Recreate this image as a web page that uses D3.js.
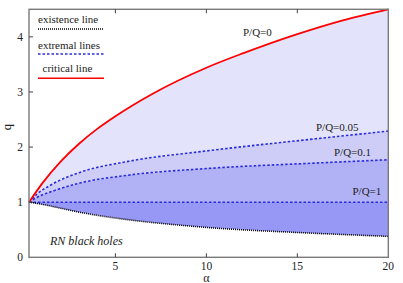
<!DOCTYPE html>
<html>
<head>
<meta charset="utf-8">
<script src="https://cdn.jsdelivr.net/npm/d3@7"></script>
<style>
  body { margin: 0; background: #fff; }
  svg { display: block; }
  svg text { font-family: "Liberation Serif", "Times New Roman", "DejaVu Serif", serif; }
</style>
</head>
<body>
<svg width="403" height="283"></svg>
<script>
// curves: [alpha, q]
var critical = [[0.25,1.00],[1,1.35],[2,1.74],[3,2.06],[4,2.33],[5,2.56],[7,2.96],[10,3.44],[12,3.70],[15,4.05],[17.5,4.30],[20,4.50]];
var extremal005 = [[0.25,1.00],[0.7,1.15],[1.55,1.33],[2.95,1.53],[5.7,1.74],[10,1.93],[16,2.15],[20,2.29]];
var extremal01 = [[0.25,1.00],[0.7,1.09],[1.55,1.20],[2.95,1.34],[5.7,1.49],[10,1.61],[16,1.71],[20,1.77]];
var extremal1 = [[0.25,1.00],[5,1.00],[10,1.00],[15,1.00],[20,1.00]];
var existence = [[0.25,1.00],[1,0.96],[2,0.89],[3,0.82],[5.5,0.69],[8,0.60],[10.5,0.53],[15,0.45],[20,0.38]];

var xTicks = [5, 10, 15, 20];
var yTicks = [0, 1, 2, 3, 4];

var svg = d3.select("svg"),
    mLeft = 29, mRight = 388.3, mTop = 9.3, mBottom = 257.3,
    serif = "'Liberation Serif', 'Times New Roman', 'DejaVu Serif', serif";

var x = d3.scaleLinear().domain([0.25, 20]).range([mLeft, mRight]);
var y = d3.scaleLinear().domain([0, 4.5]).range([mBottom, mTop]);

// existence line interpolated so areas can share its x positions
var exInterp = d3.scaleLinear().domain(existence.map(d => d[0])).range(existence.map(d => d[1]));

function band(upper) {
    var up = d3.scaleLinear().domain(upper.map(d => d[0])).range(upper.map(d => d[1]));
    var xs = d3.range(0.25, 20.001, 0.25);
    return xs.map(a => [a, up(a), exInterp(a)]);
}

var area = d3.area()
    .x(d => x(d[0]))
    .y0(d => y(d[2]))
    .y1(d => y(d[1]))
    .curve(d3.curveMonotoneX);

var fills = [
    [critical, "#e3e3fb"],
    [extremal005, "#cdcdf8"],
    [extremal01, "#b1b1f6"],
    [extremal1, "#9797f5"]
];
fills.forEach(function(f) {
    svg.append("path").datum(band(f[0])).attr("d", area).attr("fill", f[1]);
});

var line = d3.line().x(d => x(d[0])).y(d => y(d[1])).curve(d3.curveMonotoneX);

// extremal lines
[extremal005, extremal01, extremal1].forEach(function(c) {
    svg.append("path").datum(c).attr("d", line)
        .attr("fill", "none").attr("stroke", "#2a2ae0")
        .attr("stroke-width", 1.6).attr("stroke-dasharray", "2.5,2");
});
// existence line
svg.append("path").datum(existence).attr("d", line)
    .attr("fill", "none").attr("stroke", "#000")
    .attr("stroke-width", 1.6).attr("stroke-dasharray", "1,1");
// critical line
svg.append("path").datum(critical).attr("d", line)
    .attr("fill", "none").attr("stroke", "#ff0000").attr("stroke-width", 1.8);

// frame
svg.append("rect").attr("x", mLeft).attr("y", mTop)
    .attr("width", mRight - mLeft).attr("height", mBottom - mTop)
    .attr("fill", "none").attr("stroke", "#7a7a7a").attr("stroke-width", 1.4);

function txt(xp, yp, s, size) {
    return svg.append("text").attr("x", xp).attr("y", yp)
        .attr("font-family", serif).attr("font-size", size)
        .attr("fill", "#222").text(s);
}

// ticks (inward) and labels
xTicks.forEach(function(t) {
    if (t < 20) {
        svg.append("line").attr("x1", x(t)).attr("x2", x(t)).attr("y1", mBottom).attr("y2", mBottom - 4).attr("stroke", "#444");
        svg.append("line").attr("x1", x(t)).attr("x2", x(t)).attr("y1", mTop).attr("y2", mTop + 4).attr("stroke", "#444");
    }
    txt(x(t), 269.5, t, 11.5).attr("text-anchor", "middle");
});
yTicks.forEach(function(t) {
    if (t > 0) {
        svg.append("line").attr("x1", mLeft).attr("x2", mLeft + 4).attr("y1", y(t)).attr("y2", y(t)).attr("stroke", "#444");
    }
    txt(23, y(t) + 4, t, 11.5).attr("text-anchor", "end");
});

txt(x(10), 281.5, "α", 12).attr("text-anchor", "middle");
txt(0, 0, "q", 12.5).attr("text-anchor", "middle")
    .attr("transform", "translate(11,127) rotate(-90)");

// legend
var legend = [
    { label: "existence line", ty: 23, ly: 29, tx: 38, color: "#000", dash: "1,1" },
    { label: "extremal lines", ty: 48.5, ly: 54, tx: 38, color: "#2a2ae0", dash: "2.5,2" },
    { label: "critical line", ty: 72, ly: 78.3, tx: 42.5, color: "#ff0000", dash: null }
];
legend.forEach(function(l) {
    txt(l.tx, l.ty, l.label, 11);
    svg.append("line").attr("x1", 38).attr("x2", 104).attr("y1", l.ly).attr("y2", l.ly)
        .attr("stroke", l.color).attr("stroke-width", 1.6)
        .attr("stroke-dasharray", l.dash);
});

// curve labels
var labels = [
    { t: "P/Q=0", x: 243, y: 36 },
    { t: "P/Q=0.05", x: 316, y: 130.5 },
    { t: "P/Q=0.1", x: 334, y: 155.5 },
    { t: "P/Q=1", x: 352.5, y: 194.5 }
];
labels.forEach(function(l) {
    txt(l.x, l.y, l.t, 11);
});
txt(50, 245, "RN black holes", 12).attr("font-style", "italic");
</script>
</body>
</html>
